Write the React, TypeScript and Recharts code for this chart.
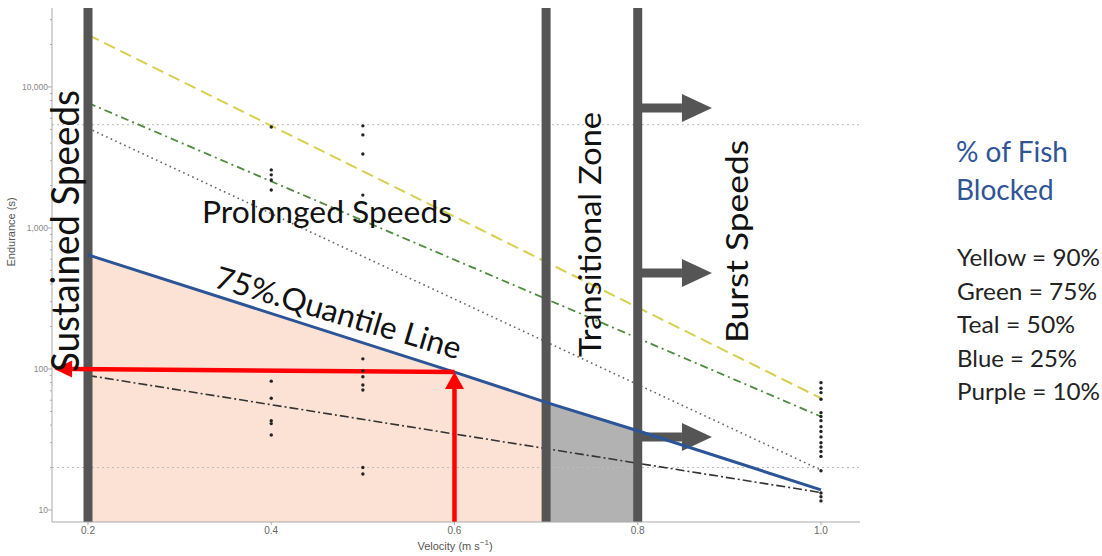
import React from "react";
import {
  ComposedChart,
  Line,
  Area,
  Scatter,
  XAxis,
  YAxis,
  ReferenceLine,
} from "recharts";

// fitted endurance lines, read at both ends of the velocity range
const fitVelocity = [0.2, 1.0];
const yellow90 = [23400, 62];
const green75 = [7700, 46];
const teal50 = [5100, 19.2];
const purple10 = [90, 13.3];

// blue (quantile) line, read at a few more speeds so the zone fills follow it
const blueVelocity = [0.2, 0.6, 0.7, 0.8, 1.0];
const blue25 = [644, 95, 58, 36.5, 13.9];

// observed fish
const obsAt04 = [5200, 2580, 2380, 2190, 1860, 82, 62, 43, 41, 34];
const obsAt05 = [5300, 4570, 3350, 1710, 118, 97, 88, 77, 71, 20, 18];
const obsAt10 = [80, 73, 68, 61, 49, 46, 43, 39, 36, 33, 30, 28, 26, 24, 19, 13.2, 12.4, 11.6];

// zone boundaries and guides
const zoneBounds = [0.2, 0.7, 0.8];
const guideLevels = [5400, 20];
const burstArrowLevels = [7100, 480, 33];
const burstArrowEnd = 0.881;
const readSpeed = 0.6;
const readEndurance = 95;
const readAxisEndurance = 100;

const xTicks = [0.2, 0.4, 0.6, 0.8, 1.0];
const decades = [10, 100, 1000, 10000];
const yTicks = [
  10, 20, 30, 40, 50, 60, 70, 80, 90,
  100, 200, 300, 400, 500, 600, 700, 800, 900,
  1000, 2000, 3000, 4000, 5000, 6000, 7000, 8000, 9000,
  10000, 20000, 30000,
];

const legendRows = ["Yellow = 90%", "Green = 75%", "Teal = 50%", "Blue = 25%", "Purple = 10%"];
const legendWidths = [143, 140, 118, 120, 143];

const X_DOMAIN: [number, number] = [0.1607, 1.0426];
const Y_DOMAIN: [number, number] = [8.22, 36300];
const PLOT_LEFT = 52;

const toPts = (xs: number[], ys: number[]) => xs.map((x, i) => ({ x, y: ys[i] }));

const bluePts = toPts(blueVelocity, blue25);
const peachPts = bluePts.filter((p) => p.x <= 0.7);
const greyPts = bluePts.filter((p) => p.x >= 0.7 && p.x <= 0.8);
const obsPts = [
  ...obsAt04.map((y) => ({ x: 0.4, y })),
  ...obsAt05.map((y) => ({ x: 0.5, y })),
  ...obsAt10.map((y) => ({ x: 1.0, y })),
];

const arrow = (color: string, shaft: number, headW: number, headL: number) => (p: any) => {
  const { x1, y1, x2, y2 } = p;
  const len = Math.hypot(x2 - x1, y2 - y1) || 1;
  const ux = (x2 - x1) / len;
  const uy = (y2 - y1) / len;
  const bx = x2 - ux * headL;
  const by = y2 - uy * headL;
  const nx = -uy * (headW / 2);
  const ny = ux * (headW / 2);
  return (
    <g>
      <line x1={x1} y1={y1} x2={bx} y2={by} stroke={color} strokeWidth={shaft} />
      <polygon points={`${x2},${y2} ${bx + nx},${by + ny} ${bx - nx},${by - ny}`} fill={color} />
    </g>
  );
};

function YTick(props: any) {
  const { y, payload } = props;
  const v = payload.value;
  const major = decades.includes(v);
  return (
    <g>
      <line x1={PLOT_LEFT} x2={PLOT_LEFT - (major ? 4 : 2)} y1={y} y2={y} stroke="#aaa" />
      {major && (
        <text x={PLOT_LEFT - 4} y={y} dy={3} textAnchor="end" fontSize={8.5} fill="#888" fontFamily="Liberation Sans, Arial">
          {v.toLocaleString("en-US")}
        </text>
      )}
    </g>
  );
}

const font = "Lato, 'Noto Sans', sans-serif";

export default function App() {
  return (
    <div style={{ position: "absolute", left: 0, top: 0, width: 1102, height: 556, background: "#fff" }}>
      <ComposedChart width={1102} height={556} margin={{ top: 8, right: 242, bottom: 4, left: 0 }}>
        <XAxis
          dataKey="x"
          type="number"
          domain={X_DOMAIN}
          allowDataOverflow
          ticks={xTicks}
          tickFormatter={(v: number) => v.toFixed(1)}
          stroke="#aaa"
          tickSize={3}
          height={30}
          tick={{ fontSize: 10, fill: "#666", fontFamily: "Liberation Sans, Arial" }}
        />
        <YAxis
          dataKey="y"
          type="number"
          scale="log"
          domain={Y_DOMAIN}
          allowDataOverflow
          ticks={yTicks}
          interval={0}
          width={PLOT_LEFT}
          stroke="#aaa"
          tickLine={false}
          tick={<YTick />}
        />

        <Area data={peachPts} dataKey="y" type="linear" stroke="none" fill="#fbe2d4" fillOpacity={1} baseValue="dataMin" isAnimationActive={false} />
        <Area data={greyPts} dataKey="y" type="linear" stroke="none" fill="#b2b2b2" fillOpacity={1} baseValue="dataMin" isAnimationActive={false} />

        {guideLevels.map((v) => (
          <ReferenceLine key={v} y={v} stroke="#bbb" strokeDasharray="2 3" strokeWidth={1} />
        ))}

        <Line data={toPts(fitVelocity, yellow90)} dataKey="y" type="linear" stroke="#d8cf4e" strokeWidth={2} strokeDasharray="12 6" dot={false} isAnimationActive={false} />
        <Line data={toPts(fitVelocity, green75)} dataKey="y" type="linear" stroke="#4f8a3e" strokeWidth={1.8} strokeDasharray="8 4 2 4" dot={false} isAnimationActive={false} />
        <Line data={toPts(fitVelocity, teal50)} dataKey="y" type="linear" stroke="#666" strokeWidth={1.6} strokeDasharray="1.6 3.4" dot={false} isAnimationActive={false} />
        <Line data={toPts(fitVelocity, purple10)} dataKey="y" type="linear" stroke="#333" strokeWidth={1.6} strokeDasharray="9 3 2 3" dot={false} isAnimationActive={false} />

        <Scatter data={obsPts} dataKey="y" isAnimationActive={false} shape={(p: any) => <circle cx={p.cx} cy={p.cy} r={1.7} fill="#222" />} />

        {zoneBounds.map((v) => (
          <ReferenceLine key={v} x={v} stroke="#555" strokeWidth={9} />
        ))}

        {burstArrowLevels.map((v) => (
          <ReferenceLine
            key={v}
            segment={[{ x: 0.8, y: v }, { x: burstArrowEnd, y: v }]}
            ifOverflow="visible"
            shape={arrow("#555", 9, 28, 30)}
          />
        ))}

        <Line data={bluePts} dataKey="y" type="linear" stroke="#2c5597" strokeWidth={3} dot={false} isAnimationActive={false} />

        <ReferenceLine
          segment={[{ x: readSpeed, y: Y_DOMAIN[0] }, { x: readSpeed, y: readEndurance }]}
          ifOverflow="visible"
          shape={arrow("#ff0000", 4.5, 19, 17)}
        />
        <ReferenceLine
          segment={[{ x: readSpeed, y: readEndurance }, { x: 0.163, y: readAxisEndurance }]}
          ifOverflow="visible"
          shape={arrow("#ff0000", 4.5, 17, 18)}
        />
      </ComposedChart>

      <svg width={1102} height={556} style={{ position: "absolute", left: 0, top: 0, pointerEvents: "none" }}>
        <g fontFamily={font} fill="#111">
          <text transform="translate(79,231) rotate(-90)" textAnchor="middle" fontSize={38} textLength={282} lengthAdjust="spacingAndGlyphs">
            Sustained Speeds
          </text>
          <text x={202} y={223} fontSize={31} textLength={250} lengthAdjust="spacingAndGlyphs">
            Prolonged Speeds
          </text>
          <text transform="translate(213,287) rotate(16.5)" fontSize={31} textLength={255} lengthAdjust="spacingAndGlyphs">
            75%.Quantile Line
          </text>
          <text transform="translate(601,234.5) rotate(-90)" textAnchor="middle" fontSize={30} textLength={245} lengthAdjust="spacingAndGlyphs">
            Transitional Zone
          </text>
          <text transform="translate(748,241.5) rotate(-90)" textAnchor="middle" fontSize={31} textLength={203} lengthAdjust="spacingAndGlyphs">
            Burst Speeds
          </text>
        </g>

        <g fontFamily="Liberation Sans, Arial" fill="#555" fontSize={11}>
          <text transform="translate(15,232) rotate(-90)" textAnchor="middle">Endurance (s)</text>
          <text x={455} y={550} textAnchor="middle">
            Velocity (m  s
            <tspan dy={-5} fontSize={8}>−1</tspan>
            <tspan dy={5}>)</tspan>
          </text>
        </g>

        <g fontFamily={font}>
          <text x={956} y={162} fontSize={28} fill="#2f5597">% of Fish</text>
          <text x={956} y={200} fontSize={28} fill="#2f5597">Blocked</text>
          {legendRows.map((t, i) => (
            <text
              key={t}
              x={957}
              y={266 + i * 33.5}
              fontSize={23.5}
              fill="#222"
              textLength={legendWidths[i]}
              lengthAdjust="spacingAndGlyphs"
            >
              {t}
            </text>
          ))}
        </g>
      </svg>
    </div>
  );
}
